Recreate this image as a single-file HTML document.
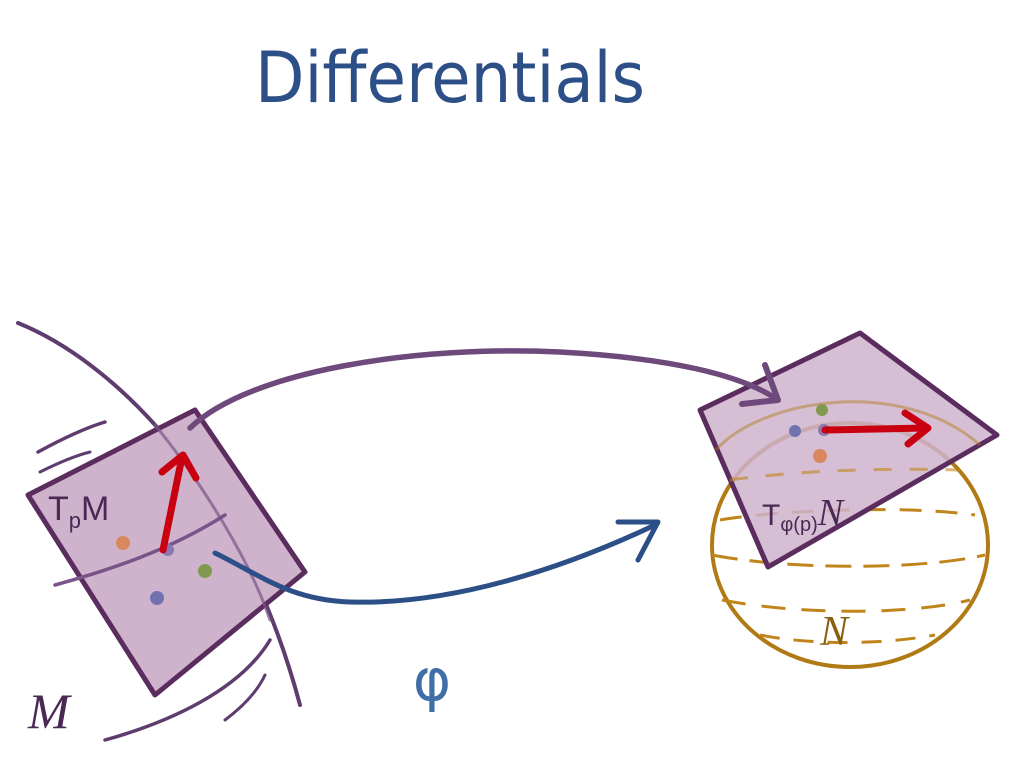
<!DOCTYPE html>
<html><head><meta charset="utf-8"><style>
html,body{margin:0;padding:0;background:#fff;width:1024px;height:768px;overflow:hidden}
svg{display:block}
</style></head><body>
<svg width="1024" height="768" viewBox="0 0 1024 768" xmlns="http://www.w3.org/2000/svg">
<!-- Title -->
<text x="450" y="102" text-anchor="middle" font-family="DejaVu Sans, sans-serif" font-weight="normal" font-size="70" fill="#2c4f87" textLength="390" lengthAdjust="spacingAndGlyphs">Differentials</text>

<!-- Manifold M curves -->
<path d="M18,323 C110,360 240,480 300,705" fill="none" stroke="#5e3d6e" stroke-width="4" stroke-linecap="round"/>
<path d="M38,452 C60,440 85,428 105,422" fill="none" stroke="#5e3d6e" stroke-width="3.5" stroke-linecap="round"/>
<path d="M40,472 C60,462 78,455 90,452" fill="none" stroke="#5e3d6e" stroke-width="3" stroke-linecap="round"/>
<path d="M105,740 C170,722 240,690 270,640" fill="none" stroke="#5e3d6e" stroke-width="3.5" stroke-linecap="round"/>
<path d="M225,720 C245,705 258,690 265,675" fill="none" stroke="#5e3d6e" stroke-width="3" stroke-linecap="round"/>

<!-- Left tangent plane -->
<polygon points="28,495 195,410 305,572 155,695" fill="#cfb3cc" stroke="#5a2d5e" stroke-width="5" stroke-linejoin="round"/>
<path d="M55,585 C110,570 170,550 225,515" fill="none" stroke="#7a5488" stroke-width="3.5" stroke-linecap="round"/>
<path d="M155,425 C200,480 250,560 270,620" fill="none" stroke="#7a5488" stroke-width="3" stroke-linecap="round" opacity="0.7"/>
<text x="48" y="520" font-family="Liberation Sans, sans-serif" font-size="34" fill="#4a2a55">T<tspan font-size="22" dy="8">p</tspan><tspan dy="-8">M</tspan></text>
<circle cx="123" cy="543" r="7" fill="#d9875f"/>
<circle cx="157" cy="598" r="7" fill="#7272b0"/>
<circle cx="205" cy="571" r="7" fill="#7f9a4f"/>
<circle cx="168" cy="550" r="6" fill="#8a78b0"/>
<path d="M163,550 L181,462" stroke="#c8000f" stroke-width="7" stroke-linecap="round"/>
<path d="M162,472 L183,455 L196,478" fill="none" stroke="#c8000f" stroke-width="7" stroke-linecap="round" stroke-linejoin="round"/>

<!-- Blue phi arc -->
<path d="M215,553 C260,575 290,600 350,602 C450,605 560,570 655,525" fill="none" stroke="#2c4f87" stroke-width="5" stroke-linecap="round"/>
<path d="M618,522 L658,522 L638,560" fill="none" stroke="#2c4f87" stroke-width="5" stroke-linecap="round" stroke-linejoin="round"/>
<text x="432" y="700" text-anchor="middle" font-family="DejaVu Sans, sans-serif" font-size="58" fill="#3f6ea8">φ</text>

<text x="28" y="728" font-family="Liberation Serif, serif" font-style="italic" font-size="50" fill="#4a2a55">M</text>

<!-- Sphere N -->
<ellipse cx="850" cy="545" rx="138" ry="122" fill="none" stroke="#b07a14" stroke-width="4"/>
<path d="M720,520 C780,510 900,505 975,515" fill="none" stroke="#c0851a" stroke-width="3" stroke-dasharray="22 14"/>
<path d="M712,555 C790,570 920,570 985,555" fill="none" stroke="#c0851a" stroke-width="3" stroke-dasharray="26 12"/>
<path d="M722,600 C800,615 910,615 970,600" fill="none" stroke="#c0851a" stroke-width="3" stroke-dasharray="24 16"/>
<path d="M760,635 C810,645 880,645 935,635" fill="none" stroke="#c0851a" stroke-width="3" stroke-dasharray="20 14"/>
<text x="820" y="645" font-family="Liberation Serif, serif" font-style="italic" font-size="42" fill="#8a6010">N</text>

<!-- Right tangent plane -->
<polygon points="700,410 860,333 997,435 768,567" fill="#cfb3cc" fill-opacity="0.85" stroke="#5a2d5e" stroke-width="5" stroke-linejoin="round"/>
<path d="M716,450 C760,400 900,375 980,445" fill="none" stroke="#b07a14" stroke-width="3" opacity="0.45"/>
<path d="M730,480 C800,470 890,468 960,470" fill="none" stroke="#c0851a" stroke-width="3" stroke-dasharray="18 18" opacity="0.6"/>
<text x="762" y="525" font-family="Liberation Sans, sans-serif" font-size="30" fill="#4a2a55">T<tspan font-size="20" dy="6">φ(p)</tspan><tspan dy="-6" font-family="Liberation Serif, serif" font-style="italic" font-size="38">N</tspan></text>

<!-- Purple big arc -->
<path d="M190,428 C250,370 420,345 560,352 C670,358 740,375 775,398" fill="none" stroke="#6e4a7c" stroke-width="5.5" stroke-linecap="round"/>
<path d="M765,365 L778,400 L742,404" fill="none" stroke="#6e4a7c" stroke-width="6" stroke-linecap="round" stroke-linejoin="round"/>

<circle cx="822" cy="410" r="6" fill="#7f9a4f"/>
<circle cx="795" cy="431" r="6" fill="#7272b0"/>
<circle cx="824" cy="430" r="6" fill="#8a78b0"/>
<circle cx="820" cy="456" r="7" fill="#d9875f"/>
<path d="M825,430 L925,428" stroke="#c8000f" stroke-width="7" stroke-linecap="round"/>
<path d="M905,413 L928,428 L908,444" fill="none" stroke="#c8000f" stroke-width="7" stroke-linecap="round" stroke-linejoin="round"/>
</svg>
</body></html>
